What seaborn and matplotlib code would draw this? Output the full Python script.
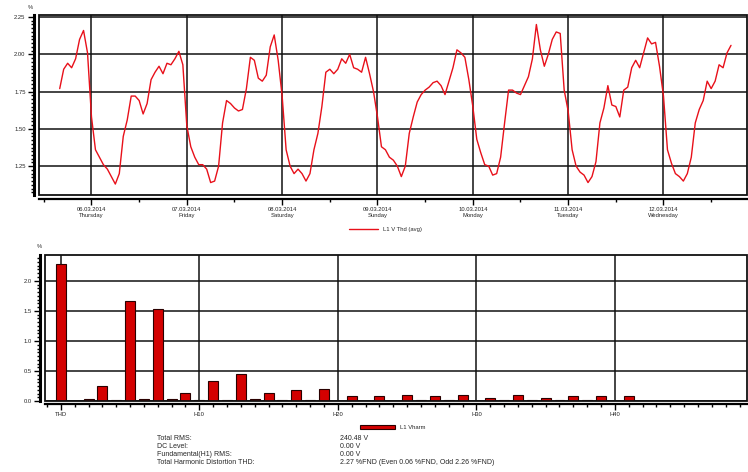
import numpy as np
import pandas as pd
import matplotlib
matplotlib.use("Agg")
import matplotlib.pyplot as plt
import matplotlib.dates as mdates
from matplotlib.ticker import MultipleLocator, FixedLocator, FormatStrFormatter
from matplotlib.patches import Rectangle, Patch
from matplotlib.lines import Line2D
import seaborn as sns

# hourly THD average, starting 05.03.2014 16:00
thd_start = "2014-03-05 16:00"
thd_avg = [
    1.77, 1.90, 1.94, 1.91, 1.97, 2.10, 2.16, 2.01,
    1.58, 1.36, 1.31, 1.26, 1.23, 1.18, 1.13, 1.20, 1.45, 1.56, 1.72, 1.72,
    1.69, 1.60, 1.67, 1.83, 1.88, 1.92, 1.87, 1.94, 1.93, 1.97, 2.02, 1.93,
    1.52, 1.38, 1.31, 1.26, 1.26, 1.23, 1.14, 1.15, 1.25, 1.54, 1.69, 1.67,
    1.64, 1.62, 1.63, 1.77, 1.98, 1.96, 1.84, 1.82, 1.86, 2.05, 2.13, 1.96,
    1.72, 1.36, 1.25, 1.20, 1.23, 1.20, 1.15, 1.20, 1.36, 1.47, 1.65, 1.88,
    1.90, 1.87, 1.90, 1.97, 1.94, 2.00, 1.91, 1.90, 1.88, 1.98, 1.87, 1.75,
    1.58, 1.38, 1.36, 1.31, 1.29, 1.25, 1.18, 1.25, 1.47, 1.58, 1.68, 1.73,
    1.76, 1.78, 1.81, 1.82, 1.79, 1.73, 1.82, 1.91, 2.03, 2.01, 1.98, 1.83,
    1.65, 1.43, 1.34, 1.26, 1.25, 1.19, 1.20, 1.31, 1.54, 1.76, 1.76, 1.74,
    1.73, 1.79, 1.85, 1.97, 2.20, 2.03, 1.92, 2.00, 2.10, 2.15, 2.14, 1.76,
    1.62, 1.36, 1.25, 1.21, 1.19, 1.14, 1.18, 1.28, 1.54, 1.64, 1.79, 1.66,
    1.65, 1.58, 1.76, 1.78, 1.91, 1.96, 1.91, 2.01, 2.11, 2.07, 2.08, 1.92,
    1.72, 1.36, 1.27, 1.20, 1.18, 1.15, 1.20, 1.31, 1.54, 1.63, 1.69, 1.82,
    1.77, 1.82, 1.93, 1.91, 2.01, 2.06,
]

# harmonic spectrum (0 = THD)
harm_order = [0, 2, 3, 4, 5, 6, 7, 8, 9, 10, 11, 12, 13, 14, 15, 16, 17, 18, 19,
              21, 23, 25, 26, 27, 28, 29, 31, 32, 33, 34, 35, 36, 37, 38, 39, 41]
harm_vals = [2.28, 0.04, 0.25, 0.015, 1.66, 0.04, 1.53, 0.04, 0.13, 0.015, 0.34,
             0.015, 0.45, 0.04, 0.13, 0.015, 0.19, 0.015, 0.21,
             0.09, 0.09, 0.11, 0.02, 0.09, 0.02, 0.11, 0.06, 0.02, 0.11, 0.02,
             0.06, 0.02, 0.08, 0.02, 0.09, 0.08]
harm_ticks = [0, 10, 20, 30, 40]
harm_tick_labels = ["THD", "H10", "H20", "H30", "H40"]

stat_names = ["Total RMS:", "DC Level:", "Fundamental(H1) RMS:",
              "Total Harmonic Distortion THD:"]
stat_values = ["240.48 V", "0.00 V", "0.00 V",
               "2.27 %FND (Even 0.06 %FND, Odd 2.26 %FND)"]

sns.set_style("white")
plt.rcParams["font.family"] = ["Liberation Sans", "DejaVu Sans"]

RED = "#e8101a"
FS = 4.2

times = pd.date_range(thd_start, periods=len(thd_avg), freq="h")
df_thd = pd.DataFrame({"time": times, "thd": thd_avg})
df_harm = pd.DataFrame({"order": harm_order, "value": harm_vals})

fig = plt.figure(figsize=(7.48, 4.72), dpi=100)

# ---- top: THD over time ----
ax1 = fig.add_axes([0.052, 0.587, 0.946, 0.381])
sns.lineplot(data=df_thd, x="time", y="thd", ax=ax1, color=RED, linewidth=1.0,
             zorder=3)
base = pd.Timestamp("2014-03-06 00:00")
ax1.set_xlim(base - pd.Timedelta(hours=13.24), base + pd.Timedelta(hours=164.9))
ax1.set_ylim(1.057, 2.263)
ax1.yaxis.set_major_locator(FixedLocator([1.25, 1.50, 1.75, 2.00, 2.25]))
ax1.yaxis.set_minor_locator(MultipleLocator(0.025))
ax1.yaxis.set_major_formatter(FormatStrFormatter("%.2f"))
ax1.xaxis.set_major_locator(mdates.DayLocator())
ax1.xaxis.set_minor_locator(mdates.HourLocator(byhour=[12]))
ax1.xaxis.set_major_formatter(mdates.DateFormatter("%d.%m.%Y\n%A"))
ax1.set_xlabel("")
ax1.set_ylabel("")
ax1.grid(True, which="major", color="#111111", linewidth=1.1)
ax1.legend(handles=[Line2D([], [], color=RED, lw=1.0)], labels=["L1 V Thd (avg)"],
           loc="center", bbox_to_anchor=(0.515, 0.513), bbox_transform=fig.transFigure,
           frameon=False, fontsize=FS, handlelength=5)
fig.text(0.040, 0.985, "%", fontsize=FS, ha="center", va="center")

# ---- bottom: harmonic spectrum ----
ax2 = fig.add_axes([0.060, 0.150, 0.938, 0.310])
sns.barplot(data=df_harm, x="order", y="value", ax=ax2, native_scale=True,
            width=0.72, color="#d40000", saturation=1, edgecolor="#2a0000",
            linewidth=0.8, errorbar=None, zorder=3)
ax2.set_xlim(-1.15, 49.5)
ax2.set_ylim(0, 2.43)
ax2.xaxis.set_major_locator(FixedLocator(harm_ticks))
ax2.set_xticklabels(harm_tick_labels)
ax2.xaxis.set_minor_locator(MultipleLocator(1))
ax2.yaxis.set_major_locator(FixedLocator([0.0, 0.5, 1.0, 1.5, 2.0]))
ax2.yaxis.set_minor_locator(MultipleLocator(0.0625))
ax2.yaxis.set_major_formatter(FormatStrFormatter("%.1f"))
ax2.set_xlabel("")
ax2.set_ylabel("")
ax2.grid(True, which="major", color="#111111", linewidth=1.1)
ax2.legend(handles=[Patch(facecolor="#d40000", edgecolor="#2a0000", lw=0.8)],
           labels=["L1 Vharm"], loc="center", bbox_to_anchor=(0.525, 0.095),
           bbox_transform=fig.transFigure, frameon=False, fontsize=FS,
           handlelength=6, handleheight=0.8)
fig.text(0.052, 0.477, "%", fontsize=FS, ha="center", va="center")

# axis style like the analyser software: offset thick spines plus a frame
for ax, lo, bo in [(ax1, 3.6, 2.9), (ax2, 3.6, 1.8)]:
    ax.set_axisbelow(True)
    for s in ["top", "right"]:
        ax.spines[s].set_visible(False)
    ax.spines["left"].set_position(("outward", lo))
    ax.spines["bottom"].set_position(("outward", bo))
    ax.spines["left"].set_linewidth(2.2)
    ax.spines["bottom"].set_linewidth(1.6)
    ax.spines["left"].set_color("black")
    ax.spines["bottom"].set_color("black")
    ax.add_patch(Rectangle((0, 0), 1, 1, transform=ax.transAxes, fill=False,
                           edgecolor="#111111", lw=1.3, clip_on=False, zorder=5))
    ax.tick_params(axis="both", which="major", labelsize=FS, length=4, width=1.0,
                   direction="out", color="black", pad=2)
    ax.tick_params(axis="both", which="minor", length=2.5, width=1.0,
                   direction="out", color="black")
    ax.tick_params(left=True, bottom=True, which="both")
for lbl in ax1.get_xticklabels():
    lbl.set_ha("center")

# statistics block
for i, (n, v) in enumerate(zip(stat_names, stat_values)):
    y = 1 - (439 + 8 * i) / 472
    fig.text(0.210, y, n, fontsize=5, va="center", ha="left")
    fig.text(0.455, y, v, fontsize=5, va="center", ha="left")

fig.savefig("out.png", dpi=100)
